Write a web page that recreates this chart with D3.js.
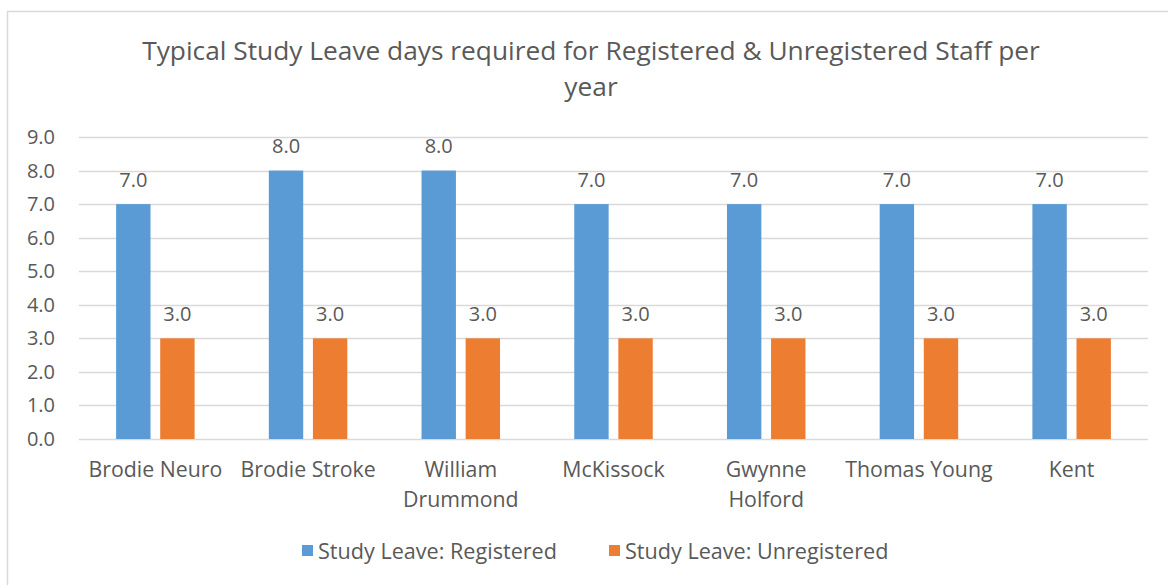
<!DOCTYPE html>
<html>
<head>
<meta charset="utf-8">
<script src="https://cdn.jsdelivr.net/npm/d3@7"></script>
<style>
  body { margin: 0; background: #fff; }
  text { font-family: "Open Sans", Lato, sans-serif; fill: #595959; }
</style>
</head>
<body>
<script>
const categories = ["Brodie Neuro", "Brodie Stroke", "William Drummond", "McKissock", "Gwynne Holford", "Thomas Young", "Kent"];
// how each category label is broken into lines
const categoryLines = [["Brodie Neuro"], ["Brodie Stroke"], ["William", "Drummond"], ["McKissock"], ["Gwynne", "Holford"], ["Thomas Young"], ["Kent"]];
const seriesNames = ["Study Leave: Registered", "Study Leave: Unregistered"];
const registered = [7, 8, 8, 7, 7, 7, 7];
const unregistered = [3, 3, 3, 3, 3, 3, 3];
const yTicks = [0, 1, 2, 3, 4, 5, 6, 7, 8, 9];
const titleLines = ["Typical Study Leave days required for Registered & Unregistered Staff per", "year"];
const colors = ["#5b9bd5", "#ed7d31"];

const W = 1168, H = 585;
const svg = d3.select("body").append("svg").attr("width", W).attr("height", H);

// chart frame (only top and left edges are in view)
svg.append("path").attr("d", "M7.5,585 V11.5 H1168").attr("fill", "none").attr("stroke", "#d9d9d9").attr("stroke-width", 1.5);

svg.selectAll(".title").data(titleLines).enter().append("text")
  .attr("x", 591).attr("y", (d, i) => 60 + i * 36)
  .attr("text-anchor", "middle").attr("font-size", 26.3)
  .text(d => d);

const y = d3.scaleLinear().domain([0, 9]).range([439, 137]);
const x0 = d3.scaleBand().domain(categories).range([79, 1148]);
const x1 = d3.scaleBand().domain(seriesNames).range([-39.25, 39.25]).paddingInner(0.22);

// gridlines
svg.append("g").selectAll("line").data(yTicks).enter().append("line")
  .attr("x1", 79).attr("x2", 1148)
  .attr("y1", d => Math.round(y(d)) + 0.5).attr("y2", d => Math.round(y(d)) + 0.5)
  .attr("stroke", "#d9d9d9").attr("stroke-width", 1.3);

svg.append("g").selectAll("text").data(yTicks).enter().append("text")
  .attr("x", 55).attr("y", d => y(d) + 7)
  .attr("text-anchor", "end").attr("font-size", 20)
  .text(d => d.toFixed(1));

const rows = categories.map((c, i) => ({ cat: c, vals: [registered[i], unregistered[i]] }));

const groups = svg.append("g").selectAll("g").data(rows).enter().append("g")
  .attr("transform", d => `translate(${x0(d.cat) + x0.bandwidth() / 2},0)`);

groups.selectAll("rect").data(d => d.vals.map((v, j) => ({ s: seriesNames[j], v, j }))).enter().append("rect")
  .attr("x", d => x1(d.s)).attr("width", x1.bandwidth())
  .attr("y", d => y(d.v)).attr("height", d => y(0) - y(d.v))
  .attr("fill", d => colors[d.j]);

groups.selectAll("text.lbl").data(d => d.vals.map((v, j) => ({ s: seriesNames[j], v, j }))).enter().append("text")
  .attr("class", "lbl")
  .attr("x", d => x1(d.s) + x1.bandwidth() / 2).attr("y", d => y(d.v) - 17.5)
  .attr("text-anchor", "middle").attr("font-size", 20)
  .text(d => d.v.toFixed(1));

// category labels
groups.each(function (d, i) {
  d3.select(this).selectAll("text.cat").data(categoryLines[i]).enter().append("text")
    .attr("class", "cat")
    .attr("x", 0).attr("y", (t, k) => 477 + k * 30)
    .attr("text-anchor", "middle").attr("font-size", 21.3)
    .text(t => t);
});

// legend
const legendX = [302, 609];
const legend = svg.append("g").selectAll("g").data(seriesNames).enter().append("g")
  .attr("transform", (d, i) => `translate(${legendX[i]},545)`);
legend.append("rect").attr("width", 11).attr("height", 11).attr("fill", (d, i) => colors[i]);
legend.append("text").attr("x", 16).attr("y", 13.5).attr("font-size", 21.6).text(d => d);
</script>
</body>
</html>
